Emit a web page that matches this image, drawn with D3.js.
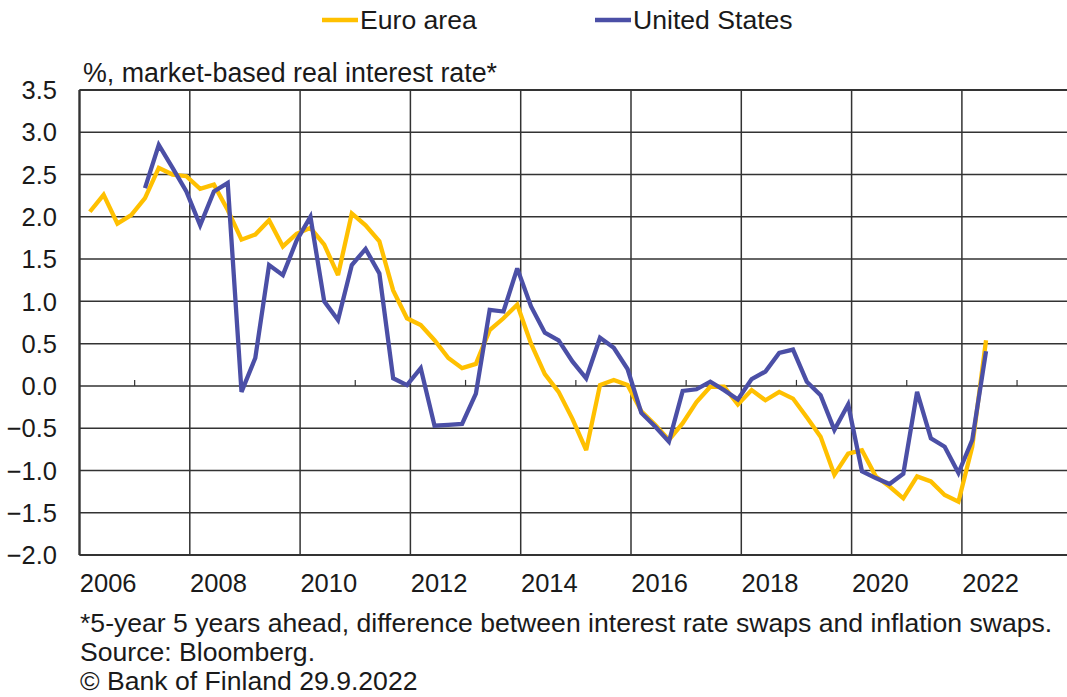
<!DOCTYPE html>
<html>
<head>
<meta charset="utf-8">
<script src="https://cdn.jsdelivr.net/npm/d3@7"></script>
<style>
  html, body { margin: 0; padding: 0; background: #fff; }
  svg { display: block; }
  text { font-family: Arial, "Liberation Sans", sans-serif; fill: #1a1a1a; }
</style>
</head>
<body>
<svg id="chart" width="1067" height="697"></svg>
<script>
// ---- data (quarterly, 5y5y real rate, %) ----
const quarters = [
  "2006Q1","2006Q2","2006Q3","2006Q4","2007Q1","2007Q2","2007Q3","2007Q4",
  "2008Q1","2008Q2","2008Q3","2008Q4","2009Q1","2009Q2","2009Q3","2009Q4",
  "2010Q1","2010Q2","2010Q3","2010Q4","2011Q1","2011Q2","2011Q3","2011Q4",
  "2012Q1","2012Q2","2012Q3","2012Q4","2013Q1","2013Q2","2013Q3","2013Q4",
  "2014Q1","2014Q2","2014Q3","2014Q4","2015Q1","2015Q2","2015Q3","2015Q4",
  "2016Q1","2016Q2","2016Q3","2016Q4","2017Q1","2017Q2","2017Q3","2017Q4",
  "2018Q1","2018Q2","2018Q3","2018Q4","2019Q1","2019Q2","2019Q3","2019Q4",
  "2020Q1","2020Q2","2020Q3","2020Q4","2021Q1","2021Q2","2021Q3","2021Q4",
  "2022Q1","2022Q2"
];
const euroArea = [
  2.06, 2.26, 1.92, 2.02, 2.22, 2.58, 2.50, 2.48,
  2.33, 2.38, 2.08, 1.73, 1.79, 1.96, 1.65, 1.80,
  1.87, 1.67, 1.31, 2.04, 1.90, 1.71, 1.13, 0.80,
  0.72, 0.54, 0.33, 0.21, 0.26, 0.66, 0.80, 0.96,
  0.50, 0.14, -0.07, -0.39, -0.76, 0.01, 0.07, 0.01,
  -0.30, -0.46, -0.64, -0.44, -0.19, -0.01, -0.01, -0.22,
  -0.05, -0.17, -0.07, -0.15, -0.37, -0.60, -1.05, -0.80,
  -0.76, -1.07, -1.19, -1.33, -1.07, -1.13, -1.29, -1.37,
  -0.72, 0.54
];
const unitedStates = [
  null, null, null, null, 2.34, 2.85, 2.58, 2.30,
  1.90, 2.30, 2.40, -0.07, 0.33, 1.43, 1.31, 1.72,
  2.00, 1.00, 0.78, 1.43, 1.62, 1.33, 0.09, 0.01,
  0.21, -0.47, -0.46, -0.45, -0.09, 0.90, 0.88, 1.39,
  0.94, 0.63, 0.54, 0.29, 0.09, 0.57, 0.45, 0.20,
  -0.32, -0.48, -0.66, -0.06, -0.04, 0.05, -0.05, -0.16,
  0.08, 0.17, 0.39, 0.43, 0.05, -0.11, -0.52, -0.22,
  -1.01, -1.09, -1.16, -1.04, -0.07, -0.62, -0.72, -1.03,
  -0.64, 0.41
];
const yTicks = [3.5, 3.0, 2.5, 2.0, 1.5, 1.0, 0.5, 0.0, -0.5, -1.0, -1.5, -2.0];
const yearLabels = [2006, 2008, 2010, 2012, 2014, 2016, 2018, 2020, 2022];
const gridYears = [2006, 2008, 2010, 2012, 2014, 2016, 2018, 2020, 2022];
const minorTickYears = [2007, 2009, 2011, 2013, 2015, 2017, 2019, 2021, 2023];
const seriesNames = ["Euro area", "United States"];
const seriesColors = ["#FFC000", "#4B4FA6"];
const titleText = "%, market-based real interest rate*";
const notes = [
  "*5-year 5 years ahead, difference between interest rate swaps and inflation swaps.",
  "Source: Bloomberg.",
  "\u00A9 Bank of Finland 29.9.2022"
];

// ---- layout ----
const L = 79.5, R = 1067, T = 90, B = 555;
const svg = d3.select("#chart");

const qTime = s => +s.slice(0, 4) + (+s.slice(5) - 1) / 4 + 0.1875;
const x = d3.scaleLinear().domain([2006, 2006 + (R - L) / 55.15]).range([L, R]);
const y = d3.scaleLinear().domain([-2, 3.5]).range([B, T]);

// horizontal gridlines
svg.append("g").selectAll("line").data(yTicks).join("line")
  .attr("x1", L).attr("x2", R)
  .attr("y1", d => y(d)).attr("y2", d => y(d))
  .attr("stroke", "#333").attr("stroke-width", 1.5);

// vertical gridlines
svg.append("g").selectAll("line").data(gridYears).join("line")
  .attr("x1", d => x(d)).attr("x2", d => x(d))
  .attr("y1", T).attr("y2", B)
  .attr("stroke", "#333").attr("stroke-width", 1.5);

// frame: top, left, bottom
svg.append("line").attr("x1", L).attr("x2", R).attr("y1", T).attr("y2", T)
  .attr("stroke", "#333").attr("stroke-width", 2.2);
svg.append("line").attr("x1", L).attr("x2", L).attr("y1", T).attr("y2", B)
  .attr("stroke", "#333").attr("stroke-width", 2.2);
svg.append("line").attr("x1", L).attr("x2", R).attr("y1", B).attr("y2", B)
  .attr("stroke", "#333").attr("stroke-width", 2.2);

// minor ticks on the zero line
svg.append("g").selectAll("line").data(minorTickYears).join("line")
  .attr("x1", d => x(d)).attr("x2", d => x(d))
  .attr("y1", y(0)).attr("y2", y(0) - 6)
  .attr("stroke", "#333").attr("stroke-width", 1.2);

// y axis labels
svg.append("g").selectAll("text").data(yTicks).join("text")
  .attr("x", 57).attr("y", d => y(d)).attr("dy", "0.36em")
  .attr("text-anchor", "end").attr("font-size", 25.5)
  .text(d => d3.format(".1f")(d));

// x axis labels
svg.append("g").selectAll("text").data(yearLabels).join("text")
  .attr("x", d => x(d + 0.52)).attr("y", 592)
  .attr("text-anchor", "middle").attr("font-size", 25.5)
  .text(d => d);

// title
svg.append("text").attr("x", 83).attr("y", 82).attr("font-size", 26.8).text(titleText);

// lines
const line = d3.line()
  .defined(d => d.v !== null)
  .x(d => x(qTime(d.q)))
  .y(d => y(d.v));
[euroArea, unitedStates].forEach((vals, i) => {
  const pts = quarters.map((q, j) => ({ q, v: vals[j] }));
  svg.append("path").datum(pts)
    .attr("d", line)
    .attr("fill", "none")
    .attr("stroke", seriesColors[i])
    .attr("stroke-width", 4.3)
    .attr("stroke-linejoin", "miter")
    .attr("stroke-miterlimit", 3);
});

// legend
const legX = [322, 595];
seriesNames.forEach((name, i) => {
  svg.append("line").attr("x1", legX[i]).attr("x2", legX[i] + 36)
    .attr("y1", 20).attr("y2", 20)
    .attr("stroke", seriesColors[i]).attr("stroke-width", 4.3);
  svg.append("text").attr("x", legX[i] + 38).attr("y", 29)
    .attr("font-size", 26.6).text(name);
});

// notes
notes.forEach((t, i) => {
  svg.append("text").attr("x", 80).attr("y", 632 + i * 29)
    .attr("font-size", 26.6).text(t);
});
</script>
</body>
</html>
